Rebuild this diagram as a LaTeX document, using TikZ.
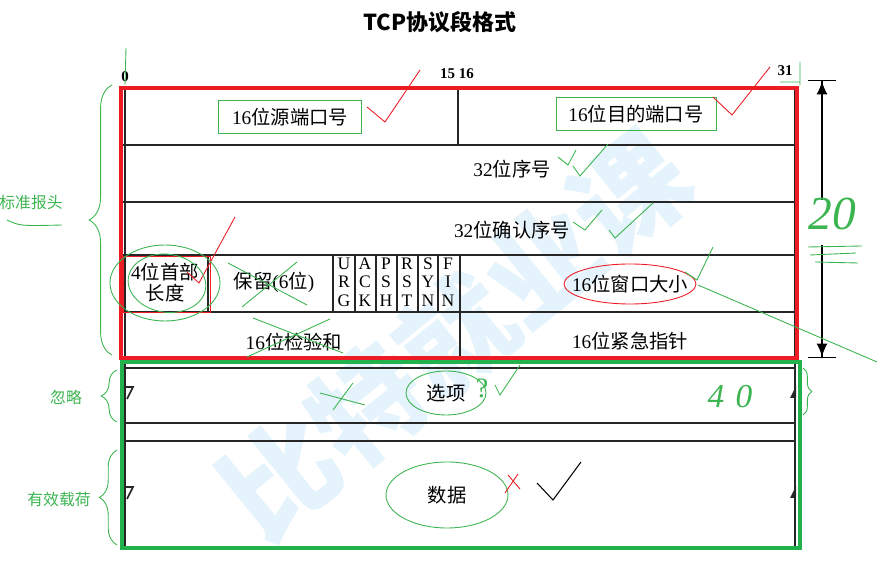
\documentclass[tikz,border=0pt]{standalone}
\usepackage{fontspec}
\setmainfont{Liberation Serif}
\newfontfamily\cjk{Noto Sans CJK SC}
\usetikzlibrary{arrows.meta,positioning,calc,decorations.pathreplacing}
\definecolor{redink}{RGB}{237,28,36}
\definecolor{greenink}{RGB}{60,180,80}
\definecolor{greenbox}{RGB}{34,177,76}
\definecolor{wmblue}{RGB}{228,243,252}
\newcommand{\zh}[1]{{\cjk #1}}

\begin{document}
\begin{tikzpicture}[x=0.02cm,y=-0.02cm,
    rule/.style={black!85,line width=0.9pt},
    cell/.style={font=\fontsize{11}{13}\selectfont,inner sep=1pt},
    flag/.style={font=\fontsize{10}{10.6}\selectfont,align=center,inner sep=0pt},
    greenline/.style={draw=greenink,line width=0.5pt},
    redline/.style={draw=redink,line width=0.5pt},
    note/.style={text=greenink,font=\cjk\fontsize{9}{10}\selectfont},
    handbrace/.style={greenline,decorate,decoration={brace,amplitude=#1}}]
  \useasboundingbox (0,0) rectangle (877,567);

  % watermark
  \node[text=wmblue,rotate=39,font=\cjk\bfseries\fontsize{64}{64}\selectfont] (wm) at (455,335) {比特就业课};

  \node[font=\cjk\bfseries\fontsize{12.5}{14}\selectfont] (title) at (440,22) {TCP协议段格式};
  \node[font=\bfseries\fontsize{8.5}{10}\selectfont] (b0) at (125,77) {0};
  \node[font=\bfseries\fontsize{8.5}{10}\selectfont] (b15) at (457,74) {15\ 16};
  \node[font=\bfseries\fontsize{8.5}{10}\selectfont] (b31) at (785,71) {31};

  % table rules
  \foreach \y in {88,145,202,255,312,358}
    \draw[rule] (122,\y) -- (795,\y);
  \foreach \y in {368,423,441,548}
    \draw[rule] (125,\y) -- (795,\y);
  \draw[rule] (125,88) -- (125,548);
  \draw[rule] (795,88) -- (795,548);
  \draw[rule] (458,88) -- (458,145);
  \draw[rule] (460,255) -- (460,358);
  \foreach \x in {208,333,355,376,397,418,438}
    \draw[rule] (\x,255) -- (\x,312);
  % break marks
  \foreach \y in {392,492} {
    \draw[rule] (126,\y-5) -- (133,\y-5) -- (127,\y+7);
    \fill[black!85] (790,\y+6) -- (796,\y-6) -- (796,\y+6) -- cycle;
  }

  % fields
  \node[cell,draw=greenink,inner xsep=0.27cm,inner ysep=0.15cm] (src) at (290,117) {16\zh{位源端口号}};
  \node[cell,draw=greenink,inner xsep=0.25cm,inner ysep=0.15cm] (dst) at (636,114) {16\zh{位目的端口号}};
  \node[cell,align=center] (hlen) at (165,283) {4\zh{位首部}\\[-1pt]\zh{长度}};
  \foreach \n/\x/\y/\t in {seq/512/169/32\zh{位序号}, ack/512/230/32\zh{位确认序号},
      resv/274/282/\zh{保留}(6\zh{位}), win/630/284/16\zh{位窗口大小},
      csum/294/342/16\zh{位检验和}, urg/630/341/16\zh{位紧急指针},
      opt/446/393/\zh{选项}, data/447/495/\zh{数据}}
    \node[cell] (\n) at (\x,\y) {\t};
  \foreach \x/\a/\b/\c in {344/U/R/G,365/A/C/K,386/P/S/H,407/R/S/T,428/S/Y/N,448/F/I/N}
    \node[flag] (flag\a\c) at (\x,282) {\a\\\b\\\c};

  % header and payload frames
  \draw[redline] (123,256) rectangle (210,312);
  \draw[redink,line width=2.8pt] (121,88) rectangle (797,358);
  \draw[greenbox,line width=2.8pt] (122,362) rectangle (800,548);

  % length arrow
  \coordinate (dimtop) at (822,80);
  \coordinate (dimbot) at (822,358);
  \draw[line width=0.8pt,{Bar[width=5.6mm]Latex[length=2.6mm,width=2.2mm]}-] (dimtop) -- ++(0,120);
  \draw[line width=0.8pt,-{Latex[length=2.6mm,width=2.2mm]Bar[width=5.6mm]}] (dimbot) ++(0,-113) -- (dimbot);
  \node[text=greenink,font=\itshape\fontsize{27}{27}\selectfont] (twenty) at (832,214) {20};
  \draw[greenline] (808,247) -- (862,246) (810,255) -- (856,253) (815,262) -- (858,263);
  \node[text=greenink,font=\itshape\fontsize{19}{19}\selectfont] (forty) at (730,397) {4\,\,0};

  % side notes
  \node[note] (hdr) at (31,203) {标准报头};
  \node[note] (ign) at (66,397) {忽略};
  \node[note] (load) at (59,500) {有效载荷};
  \draw[greenline] (7,220) .. controls (20,226) .. (62,225);
  \draw[handbrace=13pt] (112,355) -- (112,85);
  \draw[handbrace=9pt] (117,422) -- (117,370);
  \draw[handbrace=10pt] (117,545) -- (117,450);
  \draw[handbrace=5pt] (803,368) -- (803,415);
  \draw[greenline] (126,48) -- (125,85) (800,62) -- (800,85) (780,82) -- (800,82);

  % marks on fields
  \draw[redline] (367,107) -- (385,122) -- (420,70);
  \draw[redline] (713,97) -- (732,115) -- (770,67);
  \draw[redline] (187,272) -- (199,283) -- (235,217);
  \draw[greenline] (558,157) -- (568,165) -- (576,150) (573,166) -- (580,176) -- (608,144);
  \draw[greenline] (573,222) -- (585,230) -- (602,210) (609,230) -- (615,238) -- (653,203);
  \draw[greenline] (hlen) ellipse [x radius=55,y radius=38];
  \draw[greenline,rotate around={-8:(hlen)}] ($(hlen)+(2,0)$) ellipse [x radius=39,y radius=29];
  \draw[greenline] (228,263) -- (307,305) (242,307) -- (297,262);
  \draw[greenline] (253,318) -- (343,353) (247,357) -- (330,319);
  \draw[redline] (win) ellipse [x radius=66,y radius=20];
  \draw[greenline] (685,272) -- (697,280) -- (713,247) (698,285) -- (877,362);
  \draw[greenline] (opt) ellipse [x radius=40,y radius=22];
  \node[text=greenink,font=\fontsize{16}{16}\selectfont] (qmark) at (482,388) {?};
  \draw[greenline] (495,385) -- (500,395) -- (520,365);
  \draw[greenline] (320,393) -- (365,405) (333,410) -- (353,383);
  \draw[greenline] (data) ellipse [x radius=61,y radius=33];
  \draw[redline] (505,493) -- (518,474) (508,475) -- (520,489);
  \draw[line width=0.6pt] (537,483) -- (553,500) -- (581,462);
\end{tikzpicture}
\end{document}
